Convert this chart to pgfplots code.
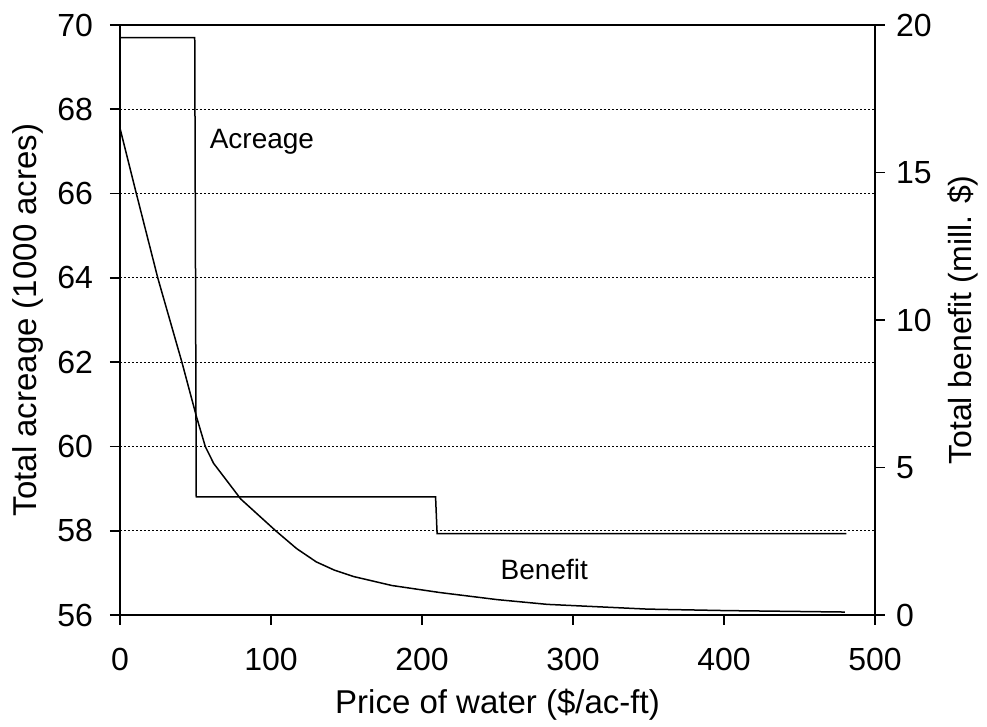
\documentclass[border=0pt]{standalone}
\usepackage{fontspec}
\setmainfont{Liberation Sans}
\usepackage{pgfplots}
\pgfplotsset{compat=1.18}
\begin{document}
\begin{tikzpicture}
\useasboundingbox (-60pt,-56pt) rectangle (433.5pt,307.5pt);
\begin{axis}[
  scale only axis, width=377.5pt, height=295pt,
  xmin=0, xmax=500, ymin=56, ymax=70,
  xtick={0,100,...,500}, ytick={56,58,...,70},
  tick align=outside, major tick length=5pt,
  xtick pos=bottom, ytick pos=left,
  ymajorgrids, grid style={black, line width=0.5pt, dash pattern=on 1pt off 1pt},
  axis line style={line width=0.9pt},
  tick style={black, line width=0.9pt},
  tick label style={font=\fontsize{16}{19}\selectfont},
  /pgf/number format/assume math mode=true,
  yticklabel style={xshift=-5pt},
  xticklabel style={yshift=-8pt},
  xlabel={Price of water (\$/ac-ft)},
  ylabel={Total acreage (1000 acres)},
  label style={font=\fontsize{16.5}{19}\selectfont},
  x label style={at={(axis description cs:0.5,-0.1525)}, anchor=center},
  y label style={at={(axis description cs:-0.1219,0.5)}, anchor=center},
]
\addplot[black, line width=0.75pt] coordinates {
  (0,69.7) (49.5,69.7) (50.5,58.8) (209,58.8) (210,57.93) (481,57.93)
};
\node[font=\fontsize{14}{17}\selectfont] at (axis cs:94,67.22) {Acreage};
\node[font=\fontsize{14}{17}\selectfont] at (axis cs:281,57.07) {Benefit};
\end{axis}
\begin{axis}[
  scale only axis, width=377.5pt, height=295pt,
  xmin=0, xmax=500, ymin=0, ymax=20,
  axis x line=none, axis y line*=right,
  ytick={0,5,...,20},
  tick align=outside, major tick length=5pt,
  axis line style={line width=0.9pt},
  tick style={black, line width=0.9pt},
  tick label style={font=\fontsize{16}{19}\selectfont},
  /pgf/number format/assume math mode=true,
  yticklabel style={xshift=2pt},
  ylabel={Total benefit (mill. \$)},
  label style={font=\fontsize{16}{19}\selectfont},
  y label style={at={(axis description cs:1.1166,0.5)}, anchor=center},
]
\addplot[black, line width=0.75pt] coordinates {
  (0,16.5) (10.8,14.29) (25,11.43) (41,8.57) (50.6,6.73) (56.5,5.71)
  (62,5.14) (80,3.93) (103,2.86) (117,2.25) (130,1.8) (142,1.52)
  (155,1.3) (180,1.0) (212,0.76) (250,0.52) (283,0.36) (349,0.2)
  (400,0.15) (480,0.1)
};
\end{axis}
\end{tikzpicture}
\end{document}
